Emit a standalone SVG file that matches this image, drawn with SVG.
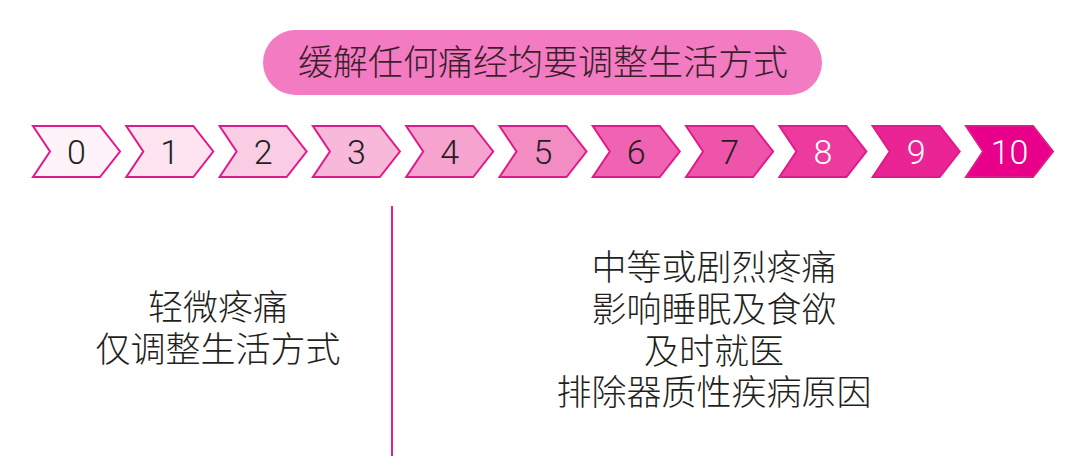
<svg xmlns="http://www.w3.org/2000/svg" width="1082" height="470" viewBox="0 0 1082 470">
<defs>
<style>
.cjk{font-family:"Noto Sans CJK SC","Noto Sans",sans-serif;font-weight:300;font-size:35px;fill:#231f20;text-anchor:middle}
.hd{fill:#3a1f2b}
.chev{stroke:#e0198c;stroke-width:2;stroke-linejoin:miter}
.num{font-family:Roboto,"Liberation Sans",sans-serif;font-weight:300;font-size:34px;text-anchor:middle;fill:#231f20}
.wt{fill:#ffffff}
</style>
<path id="chev" d="M0,0 H67 L87,25.5 L67,51 H0 L17,25.5 Z"/>
</defs>
<rect width="1082" height="470" fill="#ffffff"/>
<g id="header">
<rect x="263" y="30" width="559" height="65" rx="32.5" fill="#f27bc1"/>
<text class="cjk hd" x="543" y="75">缓解任何痛经均要调整生活方式</text>
</g>
<g id="scale">
<g id="s0"><use href="#chev" x="33" y="126" class="chev" fill="#fdf3f8"/><text class="num" x="76.5" y="164">0</text></g>
<g id="s1"><use href="#chev" x="126.3" y="126" class="chev" fill="#fde4f0"/><text class="num" x="169.8" y="164">1</text></g>
<g id="s2"><use href="#chev" x="219.6" y="126" class="chev" fill="#facde4"/><text class="num" x="263.1" y="164">2</text></g>
<g id="s3"><use href="#chev" x="312.9" y="126" class="chev" fill="#f8b8d9"/><text class="num" x="356.4" y="164">3</text></g>
<g id="s4"><use href="#chev" x="406.2" y="126" class="chev" fill="#f6a3cf"/><text class="num" x="449.7" y="164">4</text></g>
<g id="s5"><use href="#chev" x="499.5" y="126" class="chev" fill="#f48cc4"/><text class="num" x="543" y="164">5</text></g>
<g id="s6"><use href="#chev" x="592.8" y="126" class="chev" fill="#f062b2"/><text class="num" x="636.3" y="164">6</text></g>
<g id="s7"><use href="#chev" x="686.1" y="126" class="chev" fill="#ee55aa"/><text class="num" x="729.6" y="164">7</text></g>
<g id="s8"><use href="#chev" x="779.4" y="126" class="chev" fill="#ec3a9d"/><text class="num wt" x="822.9" y="164">8</text></g>
<g id="s9"><use href="#chev" x="872.7" y="126" class="chev" fill="#ea2494"/><text class="num wt" x="916.2" y="164">9</text></g>
<g id="s10"><use href="#chev" x="966" y="126" class="chev" fill="#e8008b"/><text class="num wt" x="1009.5" y="164">10</text></g>
</g>
<g id="connectors">
<line x1="392" y1="206" x2="392" y2="456" stroke="#d8238c" stroke-width="2"/>
</g>
<g id="mild">
<text class="cjk" x="218" y="320">轻微疼痛</text>
<text class="cjk" x="218" y="362">仅调整生活方式</text>
</g>
<g id="severe">
<text class="cjk" x="714" y="280">中等或剧烈疼痛</text>
<text class="cjk" x="714" y="322">影响睡眠及食欲</text>
<text class="cjk" x="714" y="364">及时就医</text>
<text class="cjk" x="714" y="405">排除器质性疾病原因</text>
</g>
</svg>
